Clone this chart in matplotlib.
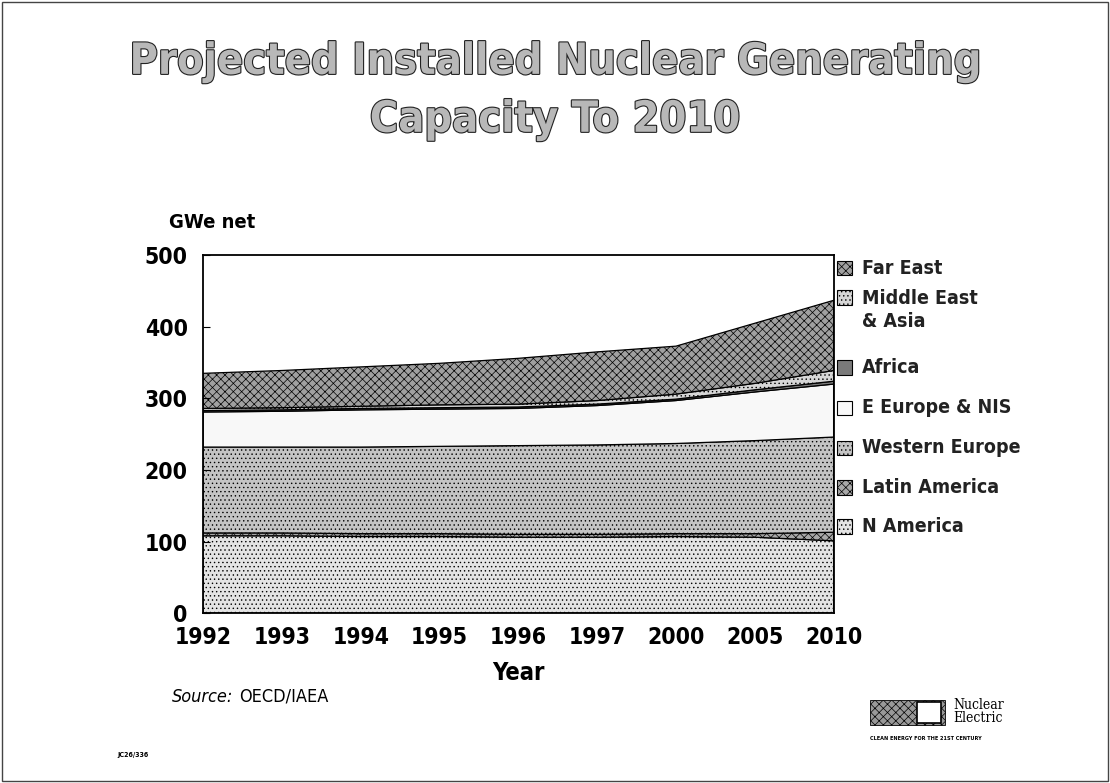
import matplotlib
matplotlib.use('Agg')
import matplotlib.pyplot as plt
import matplotlib.patheffects as pe
from matplotlib.patches import Rectangle

# GWe net (stacked, bottom to top)
years = ['1992', '1993', '1994', '1995', '1996', '1997', '2000', '2005', '2010']
n_america = [108, 108, 107, 107, 106, 106, 107, 106, 101]
latin_america = [4, 4, 4, 4, 4, 4, 4, 5, 12]
western_europe = [120, 120, 121, 122, 124, 125, 126, 130, 133]
e_europe_nis = [49, 50, 52, 52, 52, 55, 60, 68, 74]
africa = [2, 2, 2, 2, 2, 2, 2, 3, 4]
middle_east_asia = [3, 3, 3, 4, 4, 5, 7, 9, 15]
far_east = [49, 52, 55, 58, 64, 68, 67, 84, 98]

series = [n_america, latin_america, western_europe, e_europe_nis,
          africa, middle_east_asia, far_east]
names = ['N America', 'Latin America', 'Western Europe', 'E Europe & NIS',
         'Africa', 'Middle East\n& Asia', 'Far East']
# halftone look: grey face + hatch texture
faces = ['#e4e4e4', '#a8a8a8', '#c4c4c4', '#f8f8f8', '#7a7a7a', '#d6d6d6', '#a0a0a0']
hatches = ['....', 'xxxx', '....', '', '', '....', 'xxxx']

cond = ['DejaVu Sans']
plt.rcParams['hatch.color'] = '#555555'
plt.rcParams['hatch.linewidth'] = 0.5
plt.rcParams['font.stretch'] = 'condensed'   # picks DejaVu Sans Condensed

fig = plt.figure(figsize=(11.1, 7.83), dpi=100)
ax = fig.add_axes([0.183, 0.217, 0.568, 0.457])

x = list(range(len(years)))
polys = ax.stackplot(x, *series, colors=faces, edgecolor='black', linewidth=0.9)
for p, h in zip(polys, hatches):
    p.set_hatch(h)

ax.set_xlim(0, len(years) - 1)
ax.set_ylim(0, 500)
ax.set_xticks(x)
ax.set_xticklabels(years)
ax.set_yticks([0, 100, 200, 300, 400, 500])
ax.tick_params(axis='x', length=0, pad=9)
ax.tick_params(axis='y', direction='in', length=5, pad=11)
for lbl in ax.get_xticklabels() + ax.get_yticklabels():
    lbl.set_fontfamily(cond)
    lbl.set_fontweight('bold')
    lbl.set_fontsize(16.5)
for s in ax.spines.values():
    s.set_linewidth(1.3)

ax.set_xlabel('Year', fontfamily=cond, fontweight='bold', fontsize=17, labelpad=9)
fig.text(0.152, 0.716, 'GWe net', fontfamily=cond, fontweight='bold', fontsize=14.5,
         va='center')

# title, grey fill with dark outline like the scanned slide
for txt, yy in [('Projected Installed Nuclear Generating', 0.921),
                ('Capacity To 2010', 0.847)]:
    fig.text(0.5, yy, txt, ha='center', va='center', fontfamily=cond,
             fontweight='bold', fontsize=31, color='#b8b8b8',
             path_effects=[pe.Stroke(linewidth=1.6, foreground='#222222'), pe.Normal()])

# legend, placed by hand so the spacing follows the original
leg_y = [0.972, 0.89, 0.694, 0.582, 0.47, 0.359, 0.25]
order = list(range(len(names)))[::-1]
for yy, i in zip(leg_y, order):
    ax.add_patch(Rectangle((1.005, yy - 0.028), 0.024, 0.04, transform=ax.transAxes,
                           facecolor=faces[i], hatch=hatches[i], edgecolor='black',
                           linewidth=0.8, clip_on=False))
    t = ax.text(1.045, yy - 0.008, names[i], transform=ax.transAxes, va='center',
                fontfamily=cond, fontweight='bold', fontsize=14, color='#222222',
                linespacing=1.3)
    if i == 5:
        t.set_va('top')
        t.set_y(yy + 0.016)

src = fig.text(0.155, 0.104, 'Source:', fontstyle='italic', fontfamily=cond, fontsize=13)
fig.add_artist(plt.Annotation('OECD/IAEA', xy=(1, 0), xycoords=src, xytext=(4, 0),
                              textcoords='offset points', va='bottom',
                              fontfamily=cond, fontsize=13))
fig.text(0.106, 0.033, 'JC26/336', fontsize=5, fontweight='bold')

# Nuclear Electric logo
fig.patches.append(Rectangle((0.784, 0.074), 0.067, 0.032, transform=fig.transFigure,
                             facecolor='#999999', hatch='xxxx', edgecolor='black',
                             linewidth=0.6))
fig.patches.append(Rectangle((0.826, 0.077), 0.022, 0.026, transform=fig.transFigure,
                             facecolor='white', edgecolor='black', linewidth=1.2))
fig.text(0.859, 0.091, 'Nuclear\nElectric', fontfamily='DejaVu Serif', fontsize=10,
         va='center', linespacing=0.9)
fig.text(0.784, 0.055, 'CLEAN ENERGY FOR THE 21ST CENTURY', fontsize=4, fontweight='bold')

# page frame
fig.patches.append(Rectangle((0.002, 0.003), 0.996, 0.994, transform=fig.transFigure,
                             fill=False, edgecolor='#444444', linewidth=1.0))

fig.savefig('out.png', dpi=100)
